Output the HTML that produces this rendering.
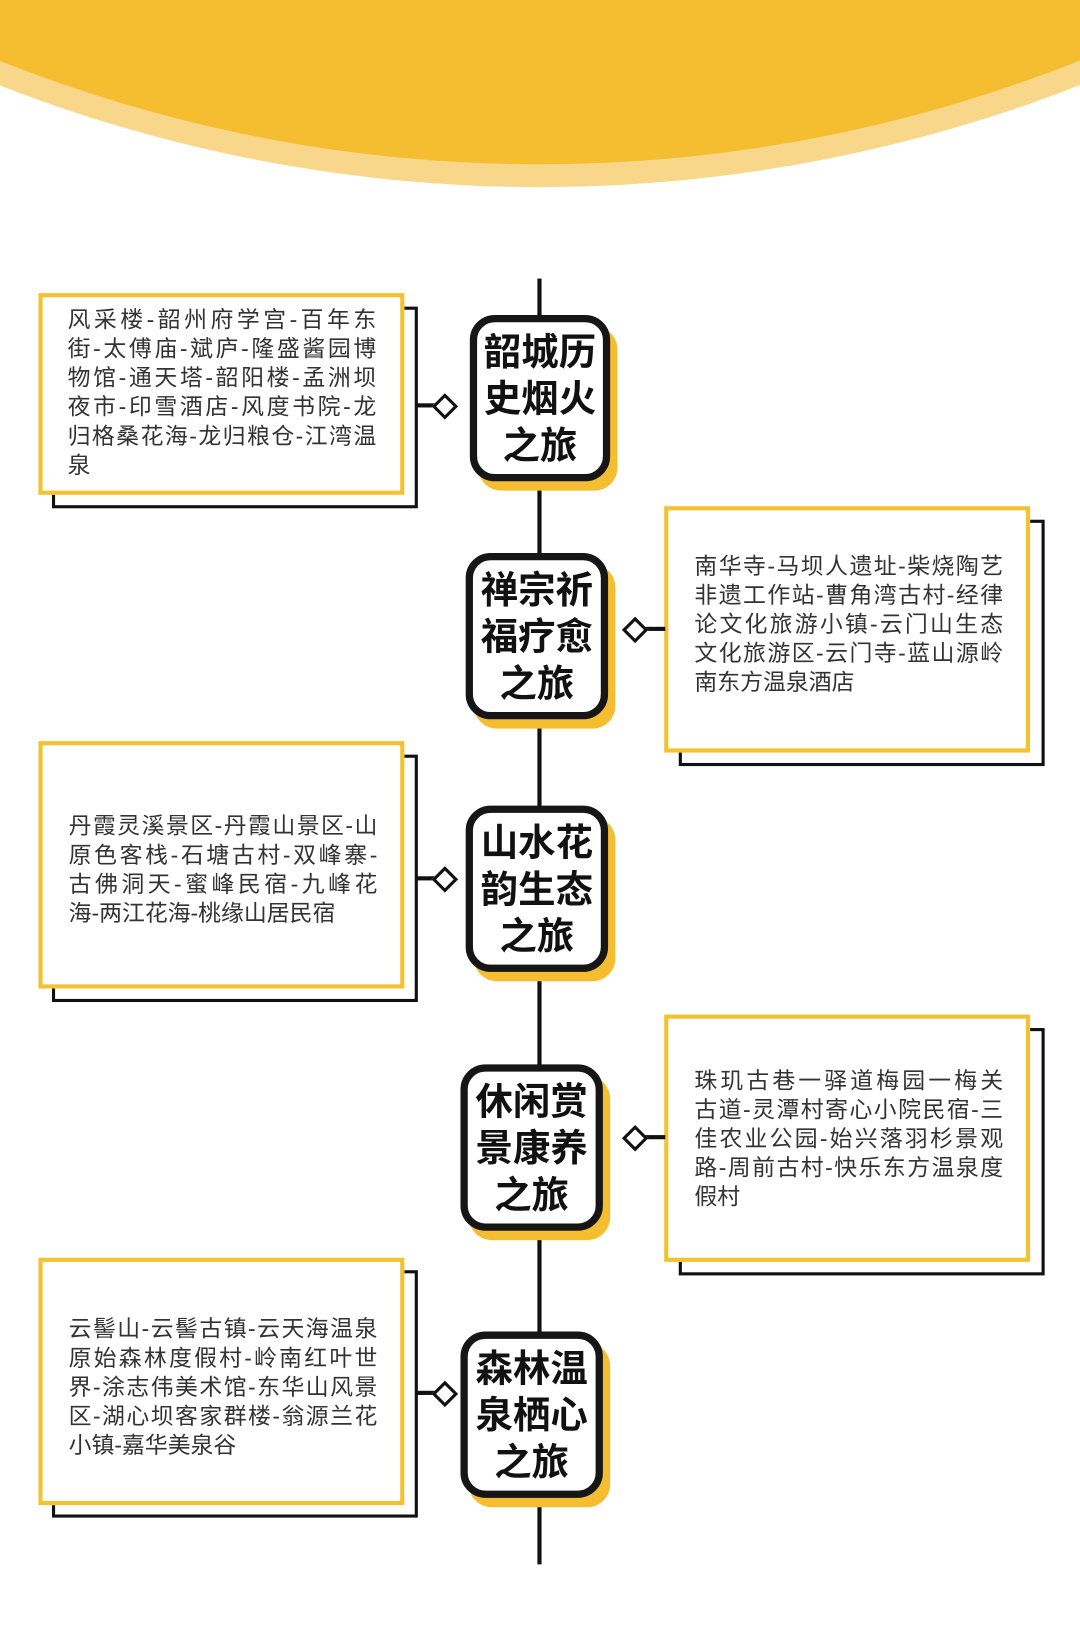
<!DOCTYPE html>
<html><head><meta charset="utf-8"><style>
html,body{margin:0;padding:0;background:#fff;width:1080px;height:1630px;overflow:hidden}
#w{position:absolute;left:0;top:0;width:1039px;height:1568px;transform:scale(1.03946);transform-origin:0 0;font-family:"Liberation Sans","Noto Sans CJK SC",sans-serif}
.a{position:absolute}
.sh{position:absolute;border:3px solid #111;background:#fff;box-sizing:border-box}
.bx{position:absolute;border:4px solid #f2c230;background:#fff;box-sizing:border-box}
.tx{position:absolute;font-size:22px;line-height:28px;color:#333;white-space:nowrap;width:297px}
.tx span{display:block;text-align:justify;text-align-last:justify}
.tx span.l{text-align-last:left}
.py{position:absolute;background:#f5bd30;border-radius:22px}
.pl{position:absolute;border:7px solid #161616;background:#fff;border-radius:24px;box-sizing:border-box;display:flex;align-items:center;justify-content:center;text-align:center;font-weight:bold;font-size:36px;line-height:45px;color:#111}
.hl{position:absolute;height:4px;background:#111}
.dm{position:absolute;width:12px;height:12px;border:3.5px solid #111;background:#fff;transform:rotate(45deg)}
</style></head><body><div id="w">
<svg class="a" style="left:0;top:0" width="1039" height="200">
<circle cx="519" cy="-1246" r="1426" fill="#f8d68a"/>
<circle cx="519" cy="-1246" r="1404" fill="#f5bd30"/>
</svg>
<div class="a" style="left:517px;top:268px;width:4px;height:1237px;background:#111"></div>

<div class="sh" style="left:50px;top:295px;width:352px;height:194px"></div>
<div class="bx" style="left:37px;top:282px;width:352px;height:194px"></div>
<div class="tx" style="left:65px;top:294px"><span>风采楼-韶州府学宫-百年东</span><span>街-太傅庙-斌庐-隆盛酱园博</span><span>物馆-通天塔-韶阳楼-孟洲坝</span><span>夜市-印雪酒店-风度书院-龙</span><span>归格桑花海-龙归粮仓-江湾温</span><span class="l">泉</span></div>
<div class="hl" style="left:400px;top:388px;width:22px"></div>
<div class="dm" style="left:419px;top:382px"></div>
<div class="py" style="left:460px;top:314px;width:134px;height:158px"></div>
<div class="pl" style="left:452px;top:303px;width:135px;height:160px">韶城历<br>史烟火<br>之旅</div>

<div class="sh" style="left:653px;top:500px;width:352px;height:237px"></div>
<div class="bx" style="left:639px;top:487px;width:352px;height:237px"></div>
<div class="tx" style="left:668px;top:531px"><span>南华寺-马坝人遗址-柴烧陶艺</span><span>非遗工作站-曹角湾古村-经律</span><span>论文化旅游小镇-云门山生态</span><span>文化旅游区-云门寺-蓝山源岭</span><span class="l">南东方温泉酒店</span></div>
<div class="hl" style="left:614px;top:603px;width:26px"></div>
<div class="dm" style="left:602px;top:597px"></div>
<div class="py" style="left:456px;top:543px;width:136px;height:158px"></div>
<div class="pl" style="left:448px;top:532px;width:137px;height:160px">禅宗祈<br>福疗愈<br>之旅</div>

<div class="sh" style="left:50px;top:726px;width:352px;height:238px"></div>
<div class="bx" style="left:37px;top:713px;width:352px;height:238px"></div>
<div class="tx" style="left:66px;top:781px"><span>丹霞灵溪景区-丹霞山景区-山</span><span>原色客栈-石塘古村-双峰寨-</span><span>古佛洞天-蜜峰民宿-九峰花</span><span class="l">海-两江花海-桃缘山居民宿</span></div>
<div class="hl" style="left:400px;top:843px;width:22px"></div>
<div class="dm" style="left:419px;top:837px"></div>
<div class="py" style="left:456px;top:786px;width:136px;height:158px"></div>
<div class="pl" style="left:448px;top:775px;width:137px;height:160px">山水花<br>韵生态<br>之旅</div>

<div class="sh" style="left:653px;top:989px;width:352px;height:238px"></div>
<div class="bx" style="left:639px;top:976px;width:352px;height:238px"></div>
<div class="tx" style="left:668px;top:1026px"><span>珠玑古巷一驿道梅园一梅关</span><span>古道-灵潭村寄心小院民宿-三</span><span>佳农业公园-始兴落羽杉景观</span><span>路-周前古村-快乐东方温泉度</span><span class="l">假村</span></div>
<div class="hl" style="left:614px;top:1092px;width:26px"></div>
<div class="dm" style="left:602px;top:1086px"></div>
<div class="py" style="left:451px;top:1035px;width:136px;height:158px"></div>
<div class="pl" style="left:443px;top:1024px;width:137px;height:160px">休闲赏<br>景康养<br>之旅</div>

<div class="sh" style="left:50px;top:1222px;width:352px;height:238px"></div>
<div class="bx" style="left:37px;top:1210px;width:352px;height:238px"></div>
<div class="tx" style="left:66px;top:1265px"><span>云髻山-云髻古镇-云天海温泉</span><span>原始森林度假村-岭南红叶世</span><span>界-涂志伟美术馆-东华山风景</span><span>区-湖心坝客家群楼-翁源兰花</span><span class="l">小镇-嘉华美泉谷</span></div>
<div class="hl" style="left:400px;top:1338px;width:22px"></div>
<div class="dm" style="left:419px;top:1332px"></div>
<div class="py" style="left:451px;top:1292px;width:136px;height:158px"></div>
<div class="pl" style="left:443px;top:1281px;width:137px;height:160px">森林温<br>泉栖心<br>之旅</div>
</div></body></html>
